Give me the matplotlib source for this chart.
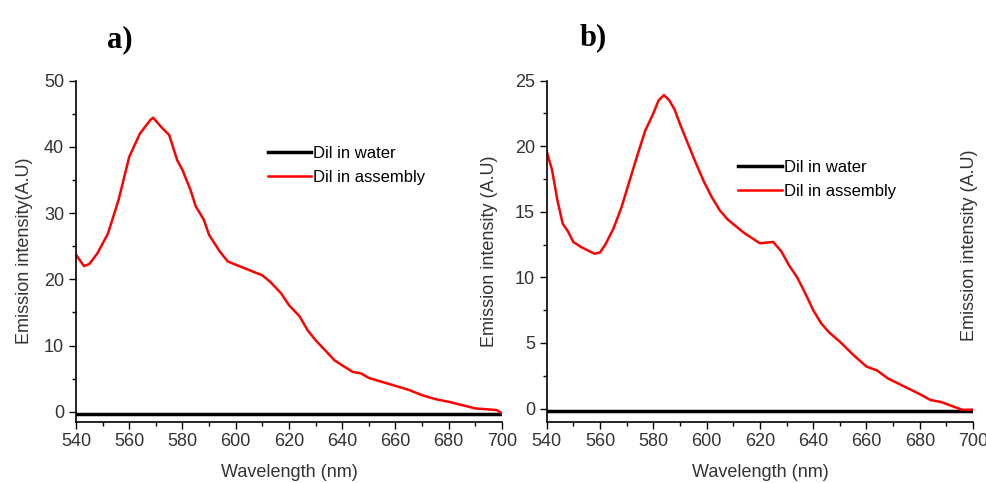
import matplotlib.pyplot as plt
import numpy as np
from matplotlib.ticker import MultipleLocator

plt.rcParams['font.family'] = ['Liberation Sans', 'DejaVu Sans']

# panel a) emission spectrum of DiI in assembly
wl_a = [540, 543, 545, 548, 552, 556, 560, 564, 568, 569, 572,
        575, 578, 580, 583, 585, 588, 590, 594, 597, 600, 605, 610, 613, 617,
        620, 624, 627, 630, 634, 637, 640, 644, 647, 650, 655, 660, 665, 670,
        675, 680, 685, 690, 695, 698, 700]
em_a = [23.7, 22.0, 22.3, 23.9, 26.9, 32.0, 38.5, 42.0, 44.1,
        44.4, 43.0, 41.8, 38.0, 36.5, 33.5, 31.0, 29.0, 26.7, 24.2, 22.7, 22.2,
        21.4, 20.6, 19.6, 17.9, 16.1, 14.4, 12.3, 10.8, 9.1, 7.8, 7.0, 6.0, 5.8,
        5.1, 4.5, 3.9, 3.3, 2.5, 1.9, 1.5, 1.0, 0.5, 0.35, 0.25, -0.25]
water_a = -0.35

# panel b)
wl_b = [540, 542, 544, 546, 548, 550, 553, 556, 558, 560, 562, 565, 568, 571,
        574, 577, 580, 582, 584, 586, 588, 590, 593, 596, 599, 602, 605, 608,
        611, 614, 617, 620, 625, 628, 631, 634, 637, 640, 643, 646, 650, 655,
        660, 664, 668, 672, 676, 680, 684, 688, 692, 696, 700]
em_b = [19.6, 18.2, 15.9, 14.1, 13.5, 12.7, 12.3, 12.0, 11.8, 11.9, 12.5, 13.7,
        15.3, 17.3, 19.3, 21.2, 22.5, 23.5, 23.9, 23.5, 22.8, 21.7, 20.2, 18.7,
        17.3, 16.1, 15.1, 14.4, 13.9, 13.4, 13.0, 12.6, 12.7, 12.0, 10.9, 10.0,
        8.8, 7.5, 6.5, 5.8, 5.1, 4.1, 3.2, 2.9, 2.3, 1.9, 1.5, 1.1, 0.65, 0.5,
        0.2, -0.1, -0.08]
water_b = -0.18

txt = '#333333'

fig = plt.figure(figsize=(9.87, 4.83), dpi=100)
ax1 = fig.add_axes([0.077, 0.127, 0.4316, 0.706])
ax2 = fig.add_axes([0.5539, 0.127, 0.432, 0.706])

for ax, wl, em, wat, ylim, ymaj, leg_y in [
        (ax1, wl_a, em_a, water_a, (-1.5, 50), 10, 0.833),
        (ax2, wl_b, em_b, water_b, (-1.0, 25), 5, 0.793)]:
    ax.plot([540, 700], [wat, wat], color='black', lw=2.5, label='Dil in water')
    ax.plot(wl, em, color='red', lw=1.8, label='Dil in assembly')
    ax.set_xlim(540, 700)
    ax.set_ylim(*ylim)
    ax.xaxis.set_major_locator(MultipleLocator(20))
    ax.xaxis.set_minor_locator(MultipleLocator(10))
    ax.yaxis.set_major_locator(MultipleLocator(ymaj))
    ax.yaxis.set_minor_locator(MultipleLocator(ymaj / 2))
    ax.spines['top'].set_visible(False)
    ax.spines['right'].set_visible(False)
    ax.spines['left'].set_linewidth(1.2)
    ax.spines['bottom'].set_linewidth(1.2)
    ax.tick_params(which='major', direction='out', length=5, width=1,
                   labelsize=13, labelcolor=txt)
    ax.tick_params(which='minor', direction='out', length=3, width=1)
    ax.set_xlabel('Wavelength (nm)', fontsize=13, color=txt, labelpad=10)
    ax.legend(loc='upper left', bbox_to_anchor=(0.43, leg_y), frameon=False,
              fontsize=12, handlelength=2.6, handletextpad=0.15,
              labelspacing=0.55, borderpad=0)

ax1.set_ylabel('Emission intensity(A.U)', fontsize=13, color=txt, labelpad=8)
ax2.set_ylabel('Emission intensity (A.U)', fontsize=13, color=txt, labelpad=12)

fig.text(970 / 987, 1 - 245 / 483, 'Emission intensity (A.U)', rotation=90,
         ha='center', va='center', fontsize=13, color=txt)

fig.text(120 / 987, 1 - 40 / 483, 'a)', fontsize=22, fontweight='bold',
         family='Liberation Serif', ha='center', va='center')
fig.text(593 / 987, 1 - 38 / 483, 'b)', fontsize=22, fontweight='bold',
         family='Liberation Serif', ha='center', va='center')

fig.savefig('out.png', dpi=100)
